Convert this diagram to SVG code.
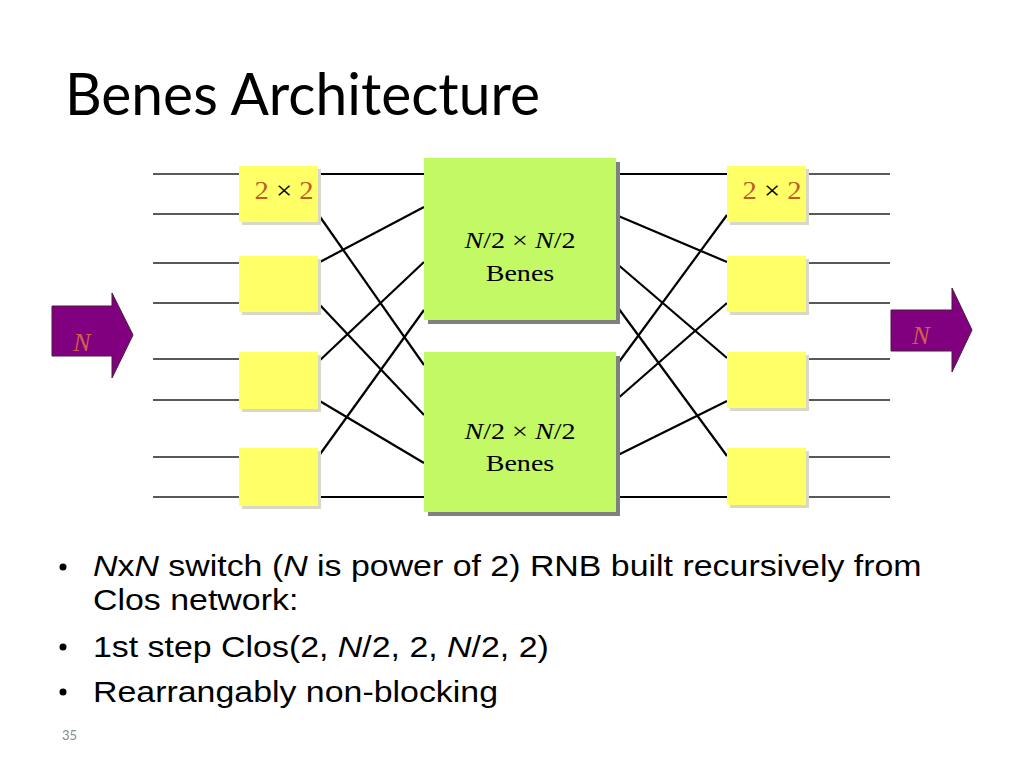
<svg xmlns="http://www.w3.org/2000/svg" width="1024" height="768" viewBox="0 0 1024 768">
<defs>
<style>
.sw{fill:#FFFF66;}
.sh{fill:#D8D8C8;}
.gb{fill:#C3F965;}
.gs{fill:#808080;}
.in{stroke:#222;stroke-width:1.3;fill:none;}
.cn{stroke:#000;stroke-width:2.2;fill:none;}
.ar{fill:#800080;stroke:#4A1A3A;stroke-width:1;}
.tm{font-family:"Liberation Serif","Times New Roman",serif;}
.lbl{font-size:24px;fill:#000;}
.two{font-size:26px;fill:#BF5B2B;}
.an{font-size:26px;fill:#D0604A;font-style:italic;}
.bt{font-family:"Liberation Sans",Arial,sans-serif;font-size:30px;fill:#000;}
.it{font-style:italic;}
</style>
</defs>
<rect x="0" y="0" width="1024" height="768" fill="#fff"/>
<text id="title" x="65" y="115" font-family="Lato,'Liberation Sans',sans-serif" font-size="58" fill="#000" textLength="475" lengthAdjust="spacingAndGlyphs">Benes Architecture</text>

<g id="connectors">
<g class="in">
<line x1="153" y1="174" x2="240" y2="174"/><line x1="153" y1="214" x2="240" y2="214"/>
<line x1="153" y1="263" x2="240" y2="263"/><line x1="153" y1="303" x2="240" y2="303"/>
<line x1="153" y1="359" x2="240" y2="359"/><line x1="153" y1="400" x2="240" y2="400"/>
<line x1="153" y1="457" x2="240" y2="457"/><line x1="153" y1="497" x2="240" y2="497"/>
<line x1="806" y1="174" x2="890" y2="174"/><line x1="806" y1="214" x2="890" y2="214"/>
<line x1="806" y1="263" x2="890" y2="263"/><line x1="806" y1="303" x2="890" y2="303"/>
<line x1="806" y1="359" x2="890" y2="359"/><line x1="806" y1="400" x2="890" y2="400"/>
<line x1="806" y1="457" x2="890" y2="457"/><line x1="806" y1="497" x2="890" y2="497"/>
</g>
<g class="cn">
<line x1="318" y1="174" x2="424" y2="174"/>
<line x1="318" y1="214" x2="424" y2="365"/>
<line x1="318" y1="263" x2="424" y2="207"/>
<line x1="318" y1="303" x2="424" y2="415"/>
<line x1="318" y1="362" x2="424" y2="262"/>
<line x1="318" y1="400" x2="424" y2="463"/>
<line x1="318" y1="457" x2="424" y2="310"/>
<line x1="318" y1="497" x2="424" y2="497"/>
<line x1="616" y1="174" x2="727" y2="174"/>
<line x1="616" y1="215" x2="727" y2="262"/>
<line x1="616" y1="263" x2="727" y2="358"/>
<line x1="616" y1="305" x2="727" y2="456"/>
<line x1="616" y1="366" x2="727" y2="215"/>
<line x1="616" y1="400" x2="727" y2="303"/>
<line x1="616" y1="456" x2="727" y2="401"/>
<line x1="616" y1="497" x2="727" y2="497"/>
</g>
</g>

<g id="in-sw1"><rect class="sh" x="242" y="169" width="79" height="56"/><rect class="sw" x="239" y="166" width="79" height="56"/>
<text class="tm two" x="284" y="199" text-anchor="middle" transform="translate(284,0) scale(1.1,1) translate(-284,0)">2 <tspan fill="#000">×</tspan> 2</text></g>
<g id="in-sw2"><rect class="sh" x="242" y="259" width="79" height="56"/><rect class="sw" x="239" y="256" width="79" height="56"/></g>
<g id="in-sw3"><rect class="sh" x="242" y="355" width="79" height="57"/><rect class="sw" x="239" y="352" width="79" height="57"/></g>
<g id="in-sw4"><rect class="sh" x="242" y="451" width="79" height="58"/><rect class="sw" x="239" y="448" width="79" height="58"/></g>

<g id="benes-top"><rect class="gs" x="428" y="162" width="192" height="162"/><rect class="gb" x="424" y="158" width="192" height="162"/>
<g transform="translate(520,0) scale(1.17,1) translate(-520,0)">
<text class="tm lbl" x="520" y="248" text-anchor="middle"><tspan class="it">N</tspan>/2 × <tspan class="it">N</tspan>/2</text>
<text class="tm lbl" x="520" y="281" text-anchor="middle">Benes</text></g></g>
<g id="benes-bottom"><rect class="gs" x="428" y="356" width="192" height="160"/><rect class="gb" x="424" y="352" width="192" height="160"/>
<g transform="translate(520,0) scale(1.17,1) translate(-520,0)">
<text class="tm lbl" x="520" y="439" text-anchor="middle"><tspan class="it">N</tspan>/2 × <tspan class="it">N</tspan>/2</text>
<text class="tm lbl" x="520" y="471" text-anchor="middle">Benes</text></g></g>

<g id="out-sw1"><rect class="sh" x="730" y="169" width="79" height="56"/><rect class="sw" x="727" y="166" width="79" height="56"/>
<text class="tm two" x="772" y="199" text-anchor="middle" transform="translate(772,0) scale(1.1,1) translate(-772,0)">2 <tspan fill="#000">×</tspan> 2</text></g>
<g id="out-sw2"><rect class="sh" x="730" y="259" width="79" height="56"/><rect class="sw" x="727" y="256" width="79" height="56"/></g>
<g id="out-sw3"><rect class="sh" x="730" y="355" width="79" height="56"/><rect class="sw" x="727" y="352" width="79" height="56"/></g>
<g id="out-sw4"><rect class="sh" x="730" y="451" width="79" height="57"/><rect class="sw" x="727" y="448" width="79" height="57"/></g>

<g id="arrow-in"><polygon class="ar" points="52,306 112,306 112,293 133,335 112,378 112,356 52,356"/>
<text class="tm an" x="82" y="351" text-anchor="middle">N</text></g>
<g id="arrow-out"><polygon class="ar" points="891,310 952,310 952,288 972,330 952,372 952,351 891,351"/>
<text class="tm an" x="921" y="344" text-anchor="middle">N</text></g>

<g id="bullets">
<circle cx="63" cy="567" r="3.5" fill="#000"/>
<circle cx="63" cy="647" r="3.5" fill="#000"/>
<circle cx="63" cy="692" r="3.5" fill="#000"/>
<g transform="translate(93,0) scale(1.13,1)">
<text class="bt" x="0" y="576"><tspan class="it">N</tspan>x<tspan class="it">N</tspan> switch (<tspan class="it">N</tspan> is power of 2) RNB built recursively from</text>
<text class="bt" x="0" y="610">Clos network:</text>
<text class="bt" x="0" y="657">1st step Clos(2, <tspan class="it">N</tspan>/2, 2, <tspan class="it">N</tspan>/2, 2)</text>
<text class="bt" x="0" y="702">Rearrangably non-blocking</text>
</g>
</g>
<text id="page" x="62" y="740" font-family="Lato,'Liberation Sans',sans-serif" font-size="13" fill="#8A8A8A">35</text>
</svg>
